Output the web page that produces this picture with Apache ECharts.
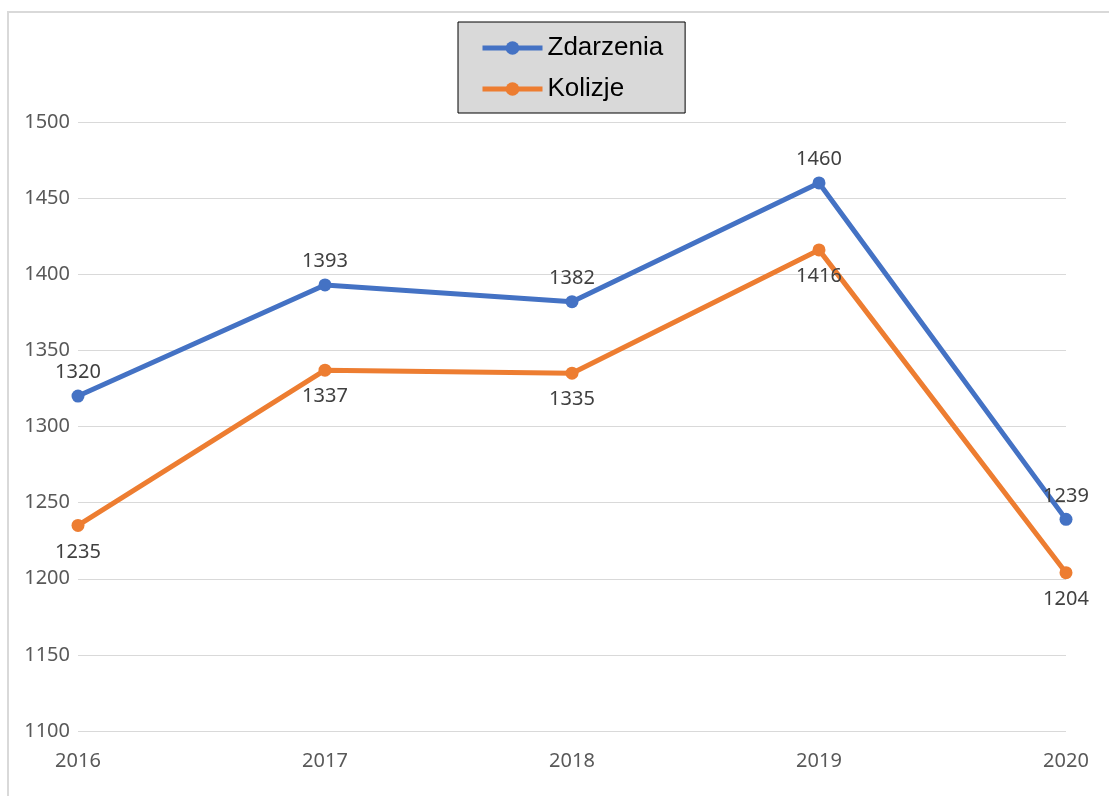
<!DOCTYPE html>
<html>
<head>
<meta charset="utf-8">
<script src="https://cdn.jsdelivr.net/npm/echarts@6/dist/echarts.min.js"></script>
<style>
  html, body { margin: 0; padding: 0; background: #fff; }
  #chart { width: 1109px; height: 796px; }
</style>
</head>
<body>
<div id="chart"></div>
<script>
// data
var years = ["2016", "2017", "2018", "2019", "2020"];
var zdarzenia = [1320, 1393, 1382, 1460, 1239];
var kolizje = [1235, 1337, 1335, 1416, 1204];

var chart = echarts.init(document.getElementById("chart"));
var labelFont = "Noto Sans";

chart.setOption({
  backgroundColor: "#fff",
  animation: false,
  graphic: [
    {
      // outer chart frame
      type: "rect",
      silent: true,
      shape: { x: 8, y: 12, width: 1200, height: 900 },
      style: { fill: "none", stroke: "#d9d9d9", lineWidth: 2 }
    }
  ],
  legend: {
    orient: "vertical",
    left: 458,
    top: 22,
    padding: [13, 22, 11, 22],
    backgroundColor: "#d9d9d9",
    borderColor: "#000",
    borderWidth: 1,
    itemWidth: 60,
    itemHeight: 17,
    itemGap: 15,
    lineStyle: { width: 5 },
    textStyle: { fontFamily: "Liberation Sans", fontSize: 26, color: "#000" },
    data: ["Zdarzenia", "Kolizje"]
  },
  grid: { left: 78, right: 43, top: 122, bottom: 65 },
  xAxis: {
    type: "category",
    boundaryGap: false,
    data: years,
    axisLine: { show: false },
    axisTick: { show: false },
    axisLabel: { margin: 20, fontFamily: labelFont, fontSize: 20, color: "#595959" }
  },
  yAxis: {
    type: "value",
    min: 1100,
    max: 1500,
    interval: 50,
    axisLine: { show: false },
    axisTick: { show: false },
    axisLabel: {
      margin: 8, fontFamily: labelFont, fontSize: 20, color: "#595959",
      formatter: function (v) { return String(v); }
    },
    splitLine: { lineStyle: { color: "#d9d9d9", width: 1 } }
  },
  series: [
    {
      name: "Zdarzenia",
      type: "line",
      data: zdarzenia,
      symbol: "circle",
      symbolSize: 13,
      color: "#4472C4",
      lineStyle: { width: 5, color: "#4472C4" },
      label: {
        show: true, position: "top", distance: 7,
        fontFamily: labelFont, fontSize: 20, color: "#404040"
      }
    },
    {
      name: "Kolizje",
      type: "line",
      data: kolizje,
      symbol: "circle",
      symbolSize: 13,
      color: "#ED7D31",
      lineStyle: { width: 5, color: "#ED7D31" },
      label: {
        show: true, position: "bottom", distance: 10,
        fontFamily: labelFont, fontSize: 20, color: "#404040"
      }
    }
  ]
});
</script>
</body>
</html>
